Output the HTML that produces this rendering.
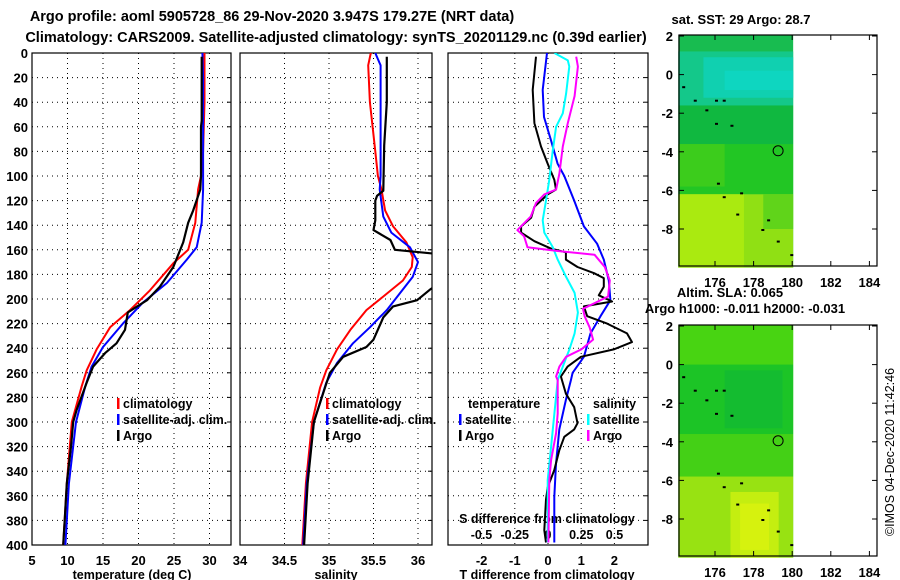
<!DOCTYPE html>
<html><head><meta charset="utf-8">
<style>
html,body{margin:0;padding:0;background:#fff;}
svg{display:block;font-family:"Liberation Sans",Arial,sans-serif;font-weight:bold;}
</style></head>
<body>
<svg id="chart" width="900" height="580" viewBox="0 0 900 580" xmlns="http://www.w3.org/2000/svg">
<defs>
<clipPath id="c1"><rect x="32" y="53" width="199" height="492"/></clipPath>
<clipPath id="c2"><rect x="240" y="53" width="192" height="492"/></clipPath>
<clipPath id="c3"><rect x="448" y="53" width="200" height="492"/></clipPath>
</defs>
<text x="272" y="21" font-size="14.5" text-anchor="middle">Argo profile: aoml 5905728_86 29-Nov-2020 3.947S 179.27E (NRT data)</text>
<text x="336" y="42" font-size="14.5" text-anchor="middle">Climatology: CARS2009. Satellite-adjusted climatology: synTS_20201129.nc (0.39d earlier)</text>
<g id="maps"></g>
<g id="plots"></g>
</svg>
<script>
// ---- data: depth (m) and values ----
const tClimDepth=[0,20,40,60,80,100,111,138,160,171,193,209,223,241,258,271,300,350,400];
const tClimVal=[29.3,29.3,29.3,29.2,29.1,28.8,28.4,28.0,27.0,24.9,21.6,18.8,16.0,14.1,12.7,12.0,10.6,9.9,9.4];
const tSatDepth=[0,20,40,60,80,100,111,138,158,168,187,203,220,239,255,271,300,350,400];
const tSatVal=[29.0,29.1,29.1,29.1,29.1,29.1,29.1,28.9,28.2,26.8,24.0,20.6,17.8,15.0,13.4,12.5,11.2,10.2,9.7];
const tArgoDepth=[3,55,60,100,111,128,138,154,174,190,201,206,211,225,236,244,255,268,290,300,320,350,380,400];
const tArgoVal=[28.9,28.9,28.8,28.8,28.7,27.7,27.0,26.3,24.9,23.0,21.2,19.8,18.5,18.1,16.9,15.3,13.6,12.7,11.3,10.8,10.5,9.9,9.6,9.4];

const sClimDepth=[0,10,40,60,80,100,111,128,141,154,166,174,185,198,209,225,241,258,272,300,350,400];
const sClimVal=[35.47,35.44,35.46,35.49,35.52,35.55,35.59,35.63,35.72,35.87,35.94,35.93,35.83,35.61,35.42,35.24,35.09,34.97,34.9,34.81,34.74,34.7];
const sSatDepth=[0,5,10,100,111,133,146,158,170,182,195,209,223,236,252,268,300,350,400];
const sSatVal=[35.52,35.55,35.58,35.58,35.57,35.61,35.70,35.91,36.0,35.94,35.8,35.65,35.46,35.27,35.09,34.97,34.83,34.75,34.71];
const sArgoDepth=[3,40,75,112,116,120,136,144,152,160,164,172,185,192,201,206,215,233,239,247,260,271,300,350,400];
const sArgoVal=[35.65,35.65,35.62,35.61,35.54,35.52,35.52,35.5,35.69,35.74,36.3,36.3,36.3,36.14,35.99,35.72,35.61,35.5,35.42,35.16,35.01,34.96,34.83,34.76,34.72];

const dTSatDepth=[0,30,52,71,90,100,120,141,155,168,185,201,214,228,247,260,266,282,306,334,361,398];
const dTSatVal=[-0.03,-0.16,-0.12,0.09,0.29,0.49,0.79,1.08,1.48,1.68,1.83,1.88,1.58,1.28,1.08,0.74,0.69,0.54,0.34,0.24,0.19,0.19];
const dTArgoDepth=[3,30,57,76,90,103,111,115,125,134,141,146,153,159,162,168,174,179,183,190,197,202,206,214,220,228,235,241,247,255,263,277,288,301,306,312,323,339,353,363,388,398];
const dTArgoVal=[-0.36,-0.46,-0.41,-0.21,-0.01,0.19,0.24,-0.01,-0.41,-0.51,-0.81,-0.81,-0.41,0.09,0.54,0.54,0.89,1.39,1.68,1.68,1.53,1.93,1.08,1.18,1.78,2.38,2.53,1.98,0.99,0.59,0.39,0.54,0.79,0.89,0.79,0.49,0.34,0.19,-0.01,-0.06,-0.11,-0.06];
const dSSatDepth=[0,6,11,33,49,60,79,103,120,136,146,158,168,182,195,211,228,241,255,266,293,320,347,398];
const dSSatVal=[0.048,0.149,0.16,0.136,0.111,0.061,0.036,0.01,-0.015,-0.04,-0.028,0.036,0.073,0.136,0.2,0.225,0.2,0.161,0.111,0.073,0.048,0.023,-0.002,-0.002];
const dSArgoDepth=[3,11,35,57,76,98,111,115,122,133,144,149,158,161,164,174,185,198,208,214,223,233,241,247,255,263,266,293,309,331,347,398];
const dSArgoVal=[0.212,0.225,0.2,0.149,0.111,0.086,0.061,-0.028,-0.09,-0.13,-0.23,-0.18,-0.154,0.073,0.35,0.427,0.465,0.452,0.263,0.275,0.313,0.339,0.25,0.136,0.086,0.061,0.073,0.073,0.061,0.023,0.01,0.003];

const depthTicks=[0,20,40,60,80,100,120,140,160,180,200,220,240,260,280,300,320,340,360,380,400];
const tTicks=[5,10,15,20,25,30];
const sTicks=[34,34.5,35,35.5,36];
const dTTicks=[-2,-1,0,1,2];
const dSTicks=[-0.5,-0.25,0,0.25,0.5];
const dSTickLabels=["-0.5","-0.25","0","0.25","0.5"];
const latTicks=[2,0,-2,-4,-6,-8];
const lonTicks=[176,178,180,182,184];

// ---- scales ----
const yD=d=>53+d*1.23;
const xT=t=>32+(t-5)*7.1;
const xS=s=>240+(s-34)*89;
const xDT=t=>548+t*33.2;
const xDS=s=>548+s*133;

const NS='http://www.w3.org/2000/svg';
const plots=document.getElementById('plots');
const maps=document.getElementById('maps');
function mk(tag,attrs,parent){const e=document.createElementNS(NS,tag);for(const k in attrs)e.setAttribute(k,attrs[k]);(parent||plots).appendChild(e);return e;}
function txt(str,x,y,anchor,size,parent){const e=mk('text',{x:x,y:y,'text-anchor':anchor,'font-size':size},parent);e.textContent=str;return e;}

function panel(x0,x1,name){
  const g=mk('g',{});
  
  
  depthTicks.forEach(d=>{
    if(d>0&&d<400){const l=mk('line',{x1:x0,x2:x1,y1:yD(d),y2:yD(d),stroke:'#000','stroke-width':1,'stroke-dasharray':'1,4'},g);
    
    }
    mk('line',{x1:x1-4,x2:x1,y1:yD(d),y2:yD(d),stroke:'#000'},g);
  });
  const r=mk('rect',{x:x0,y:53,width:x1-x0,height:492,fill:'none',stroke:'#000','stroke-width':1.2},g);
  
  
  return g;
}
function vgrid(g,vals,fx){vals.forEach(v=>{const x=fx(v);
  const l=mk('line',{x1:x,x2:x,y1:53,y2:545,stroke:'#000','stroke-width':1,'stroke-dasharray':'1,4'},g);
  
  });}
function series(depths,vals,fx,color,clip,name,w){
  const pts=depths.map((d,i)=>fx(vals[i]).toFixed(1)+','+yD(d).toFixed(1)).join(' ');
  const p=mk('polyline',{points:pts,fill:'none',stroke:color,'stroke-width':w||2,'clip-path':'url(#'+clip+')','stroke-linejoin':'round'});
  
  
}

// panels
const g1=panel(32,231,'temperature-panel'); vgrid(g1,[10,15,20,25,30],xT);
const g2=panel(240,432,'salinity-panel'); vgrid(g2,[34.5,35,35.5,36],xS);
const g3=panel(448,648,'difference-panel'); vgrid(g3,dTTicks,xDT);

// y tick labels
depthTicks.forEach(d=>{const t=txt(String(d),28,yD(d)+5,'end',13);
  
  });
tTicks.forEach(v=>{const t=txt(String(v),xT(v),565,'middle',13);
  
  });
sTicks.forEach(v=>{const t=txt(String(v),xS(v),565,'middle',13);
  
  });
dTTicks.forEach(v=>{const t=txt(String(v),xDT(v),565,'middle',13);
  
  });
dSTicks.forEach((v,i)=>{const t=txt(dSTickLabels[i],xDS(v),539,'middle',12.5);
  
  });
let at=txt('temperature (deg C)',132,579,'middle',12.5);  
at=txt('salinity',336,579,'middle',12.5);  
at=txt('T difference from climatology',547,579,'middle',12.5);  
at=txt('S difference from climatology',547,523,'middle',12.5);  

// series
series(tClimDepth,tClimVal,xT,'#f00','c1','temp-climatology-line');
series(tSatDepth,tSatVal,xT,'#00f','c1','temp-satellite-line');
series(tArgoDepth,tArgoVal,xT,'#000','c1','temp-argo-line',2.2);
series(sClimDepth,sClimVal,xS,'#f00','c2','sal-climatology-line');
series(sSatDepth,sSatVal,xS,'#00f','c2','sal-satellite-line');
series(sArgoDepth,sArgoVal,xS,'#000','c2','sal-argo-line',2.2);
series(dTSatDepth,dTSatVal,xDT,'#00f','c3','t-diff-satellite-line');
series(dTArgoDepth,dTArgoVal,xDT,'#000','c3','t-diff-argo-line');
series(dSSatDepth,dSSatVal,xDS,'#0ff','c3','s-diff-satellite-line');
series(dSArgoDepth,dSArgoVal,xDS,'#f0f','c3','s-diff-argo-line');

// legends
function legItem(x,y,color,label,name){
  const g=mk('g',{});
  
  
  if(color) mk('rect',{x:x,y:y-10,width:2.5,height:11,fill:color},g);
  txt(label,x+6,y,'start',12.5,g);
}
legItem(117,408,'#f00','climatology','legend-climatology');
legItem(117,424,'#00f','satellite-adj. clim.','legend-satellite-adj');
legItem(117,440,'#000','Argo','legend-argo');
legItem(326,408,'#f00','climatology','legend-climatology-sal');
legItem(326,424,'#00f','satellite-adj. clim.','legend-satellite-adj-sal');
legItem(326,440,'#000','Argo','legend-argo-sal');
legItem(462,408,null,'temperature','legend-temperature-header');
legItem(459,424,'#00f','satellite','legend-t-satellite');
legItem(459,440,'#000','Argo','legend-t-argo');
legItem(587,408,null,'salinity','legend-salinity-header');
legItem(587,424,'#0ff','satellite','legend-s-satellite');
legItem(587,440,'#f0f','Argo','legend-s-argo');

// ---- maps ----
const lonX=l=>715+(l-176)*19.3;
function drawMap(top,blocks,name,titles){
  const g=mk('g',{},maps);
  
  
  const latY=l=>top+1+(2-l)*19.3;
  blocks.forEach(b=>{mk('rect',{x:lonX(b[0]),y:latY(b[3]),width:lonX(b[1])-lonX(b[0]),height:latY(b[2])-latY(b[3]),fill:b[4]},g);});
  mk('rect',{x:679,y:top,width:198,height:231,fill:'none',stroke:'#000','stroke-width':1.2},g);
  latTicks.forEach(l=>{const y=latY(l);mk('line',{x1:679,x2:684,y1:y,y2:y,stroke:'#000'},g);mk('line',{x1:872,x2:877,y1:y,y2:y,stroke:'#000'},g);
    txt(String(l),673,y+5,'end',13,g);});
  lonTicks.forEach(l=>{const x=lonX(l);mk('line',{x1:x,x2:x,y1:top,y2:top+5,stroke:'#000'},g);mk('line',{x1:x,x2:x,y1:top+226,y2:top+231,stroke:'#000'},g);
    txt(String(l),x,top+252,'middle',13,g);});
  const c=mk('circle',{cx:lonX(179.27),cy:latY(-3.947),r:5,fill:'none',stroke:'#000'},g);
  
  
  [[174.3,-0.6],[174.9,-1.3],[175.5,-1.8],[176,-1.3],[176.4,-1.3],[176,-2.5],[176.8,-2.6],[176.1,-5.6],[176.4,-6.3],[177.3,-6.1],[177.1,-7.2],[178.7,-7.5],[178.4,-8],[179.2,-8.6],[179.9,-9.3]].forEach(p=>{
    mk('rect',{x:lonX(p[0]),y:latY(p[1]),width:3,height:2,fill:'#000'},g);});
}
const lon0=174.1, lon1=180.05;
drawMap(35,[
 [lon0,lon1,-10,2.05,'#18bc50'],
 [lon0,lon1,-1.6,1.2,'#14c88a'],
 [175.4,lon1,-1.2,0.9,'#10d0b0'],
 [176.5,lon1,-0.8,0.2,'#0ed6c0'],
 [lon0,lon1,-3.6,-1.6,'#10b840'],
 [lon0,lon1,-6.2,-3.6,'#22c624'],
 [lon0,176.5,-5.8,-3.6,'#3ccc1c'],
 [lon0,lon1,-10,-6.2,'#90e014'],
 [lon0,177.5,-10,-6.2,'#aaea10'],
 [178.5,lon1,-8,-6.2,'#60d41a']
],'sst-map',null);
drawMap(325,[
 [lon0,lon1,-10,2.05,'#3ccc18'],
 [lon0,lon1,0,2.05,'#48d412'],
 [lon0,lon1,-3.6,0,'#1cc426'],
 [176.5,179.5,-3.3,-0.3,'#14bc30'],
 [lon0,lon1,-5.8,-3.6,'#44d016'],
 [lon0,lon1,-10,-5.8,'#98e212'],
 [176.8,179.3,-10,-6.6,'#c4ee10'],
 [177.3,178.8,-9.6,-7.2,'#d6f20e']
],'sla-map',null);
let mt=txt('sat. SST: 29 Argo: 28.7',741,24,'middle',13);  
mt=txt('Altim. SLA: 0.065',730,297,'middle',13);  
mt=txt('Argo h1000: -0.011 h2000: -0.031',745,313,'middle',13);  
const cr=txt('©IMOS 04-Dec-2020 11:42:46',0,0,'middle',12.5);
cr.setAttribute('transform','translate(894,452) rotate(-90)');
cr.setAttribute('font-weight','normal');


</script>
</body></html>
